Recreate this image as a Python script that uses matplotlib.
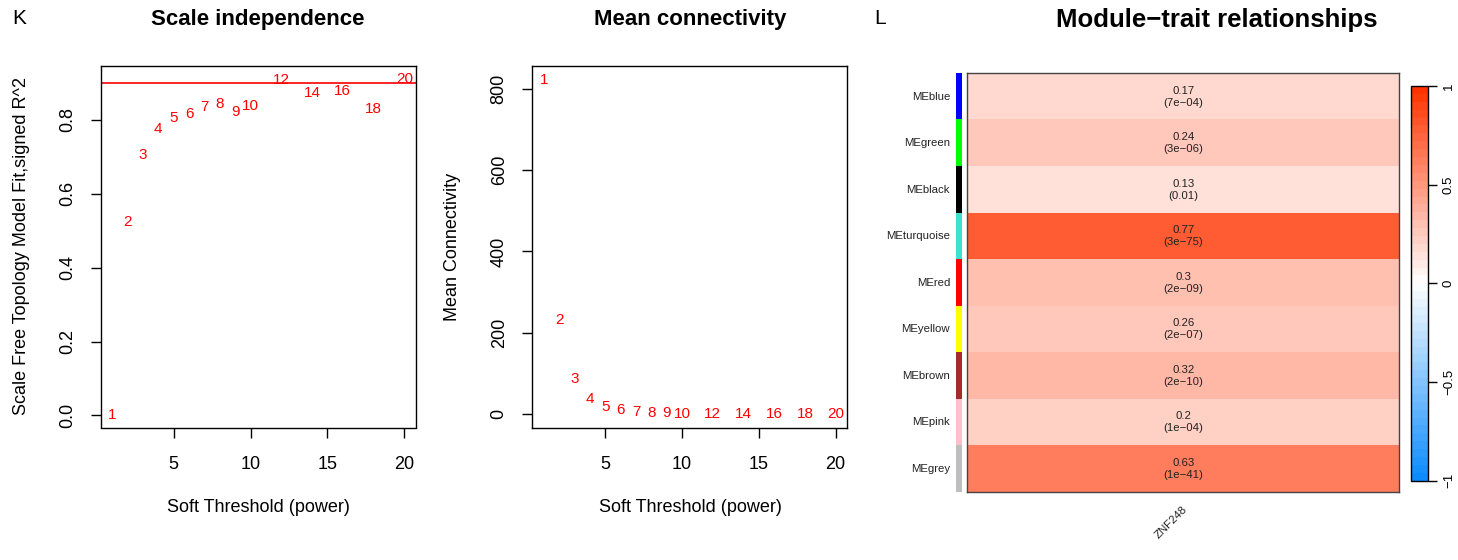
import numpy as np
import matplotlib.pyplot as plt
from matplotlib.colors import ListedColormap

plt.rcParams['font.family'] = ['Liberation Sans', 'DejaVu Sans']

# soft-threshold scan
powers = [1, 2, 3, 4, 5, 6, 7, 8, 9, 10, 12, 14, 16, 18, 20]
sft_r2 = [0.0, 0.524, 0.705, 0.774, 0.804, 0.816, 0.834, 0.843, 0.822, 0.837,
          0.906, 0.872, 0.878, 0.829, 0.911]
mean_k = [822, 232, 87, 38, 19, 11, 6, 3.5, 2, 1.5, 0.8, 0.5, 0.3, 0.2, 0.1]
r2_cut = 0.9

# module-trait correlations
modules = ['MEblue', 'MEgreen', 'MEblack', 'MEturquoise', 'MEred',
           'MEyellow', 'MEbrown', 'MEpink', 'MEgrey']
module_colors = ['#0000FF', '#00FF00', '#000000', '#40E0D0', '#FF0000',
                 '#FFFF00', '#A52A2A', '#FFC0CB', '#BEBEBE']
cor_vals = [0.17, 0.24, 0.13, 0.77, 0.3, 0.26, 0.32, 0.2, 0.63]
p_text = ['7e\u221204', '3e\u221206', '0.01', '3e\u221275', '2e\u221209',
          '2e\u221207', '2e\u221210', '1e\u221204', '1e\u221241']
trait = 'ZNF248'

W, H = 1458, 560
fig = plt.figure(figsize=(W / 100, H / 100), dpi=100)


def box(l, t, r, b):
    return [l / W, 1 - b / H, (r - l) / W, (b - t) / H]


def ftext(x, y, s, **kw):
    fig.text(x / W, 1 - y / H, s, **kw)


def r_axes(ax):
    for sp in ax.spines.values():
        sp.set_linewidth(1.0)
    ax.tick_params(direction='out', length=7.2, width=1.0, labelsize=13)
    ax.tick_params(axis='x', pad=13)
    ax.tick_params(axis='y', pad=10.5, labelrotation=90)
    for lab in ax.get_yticklabels():
        lab.set_va('center')
    ax.set_xlim(0.24, 20.76)
    ax.set_xticks([5, 10, 15, 20])


# scale independence
axK = fig.add_axes(box(100.5, 65.7, 416, 427.5))
axK.set_ylim(-0.0325, 0.946)
axK.set_yticks([0.0, 0.2, 0.4, 0.6, 0.8])
axK.set_yticklabels(['0.0', '0.2', '0.4', '0.6', '0.8'])
r_axes(axK)
for p, v in zip(powers, sft_r2):
    axK.text(p, v, str(p), color='red', fontsize=11, ha='center', va='center')
axK.axhline(r2_cut, color='red', lw=1.2)

# mean connectivity
axM = fig.add_axes(box(532.3, 65.7, 847.3, 427.7))
axM.set_ylim(-33, 856)
axM.set_yticks([0, 200, 400, 600, 800])
r_axes(axM)
for p, v in zip(powers, mean_k):
    axM.text(p, v, str(p), color='red', fontsize=11, ha='center', va='center')

ftext(258, 20, 'Scale independence', fontsize=16, fontweight='bold', ha='center', va='center')
ftext(690, 20, 'Mean connectivity', fontsize=16, fontweight='bold', ha='center', va='center')
ftext(258, 508, 'Soft Threshold (power)', fontsize=13, ha='center', va='center')
ftext(690, 508, 'Soft Threshold (power)', fontsize=13, ha='center', va='center')
ftext(22, 246, 'Scale Free Topology Model Fit,signed R^2', fontsize=13,
      rotation=90, ha='center', va='center')
ftext(453, 247, 'Mean Connectivity', fontsize=13, rotation=90, ha='center', va='center')
ftext(12, 18, 'K', fontsize=15, ha='left', va='center')
ftext(874, 19, 'L', fontsize=15, ha='left', va='center')

# blue-white-red palette, 50 steps
t = np.linspace(-1, 1, 50)
blue_end = np.array([0.05, 0.55, 1.0])
red_end = np.array([1.0, 0.2, 0.0])
white = np.ones(3)
cols = [white + abs(v) * ((blue_end if v < 0 else red_end) - white) for v in t]
bwr = ListedColormap(np.clip(cols, 0, 1))

axH = fig.add_axes(box(967.3, 73.3, 1399.3, 492.3))
n = len(modules)
im = axH.imshow(np.array(cor_vals).reshape(n, 1), cmap=bwr, vmin=-1, vmax=1,
                aspect='auto', extent=(0, 1, n, 0), interpolation='nearest')
for i, (c, p) in enumerate(zip(cor_vals, p_text)):
    axH.text(0.5, i + 0.5, f'{c}\n({p})', ha='center', va='center',
             fontsize=8.2, color='#222222', linespacing=1.25)
axH.set_xticks([])
axH.set_yticks([])
for sp in axH.spines.values():
    sp.set_color('#444444')
    sp.set_linewidth(1.0)

# module colour strip
axS = fig.add_axes(box(956, 73.3, 962, 492.3))
axS.imshow(np.arange(n).reshape(n, 1), cmap=ListedColormap(module_colors),
           aspect='auto', extent=(0, 1, n, 0), interpolation='nearest')
axS.axis('off')
for i, m in enumerate(modules):
    axS.text(-1.0, i + 0.5, m, ha='right', va='center', fontsize=8.2,
             color='#222222', transform=axS.transData, clip_on=False)

ftext(1186, 508, trait, fontsize=8.2, rotation=45, rotation_mode='anchor',
      ha='right', va='center', color='#222222')
ftext(1217, 20, 'Module\u2212trait relationships', fontsize=18.5, fontweight='bold',
      ha='center', va='center')

cax = fig.add_axes(box(1411, 86, 1428.3, 480.7))
cb = fig.colorbar(im, cax=cax, ticks=[-1, -0.5, 0, 0.5, 1])
cb.set_ticklabels(['\u22121', '\u22120.5', '0', '0.5', '1'])
cb.outline.set_linewidth(1.0)
cax.tick_params(length=6.5, width=1.0, labelsize=9.5, pad=4, labelrotation=90)
for lab in cax.get_yticklabels():
    lab.set_va('center')

fig.savefig('out.png', dpi=100)
